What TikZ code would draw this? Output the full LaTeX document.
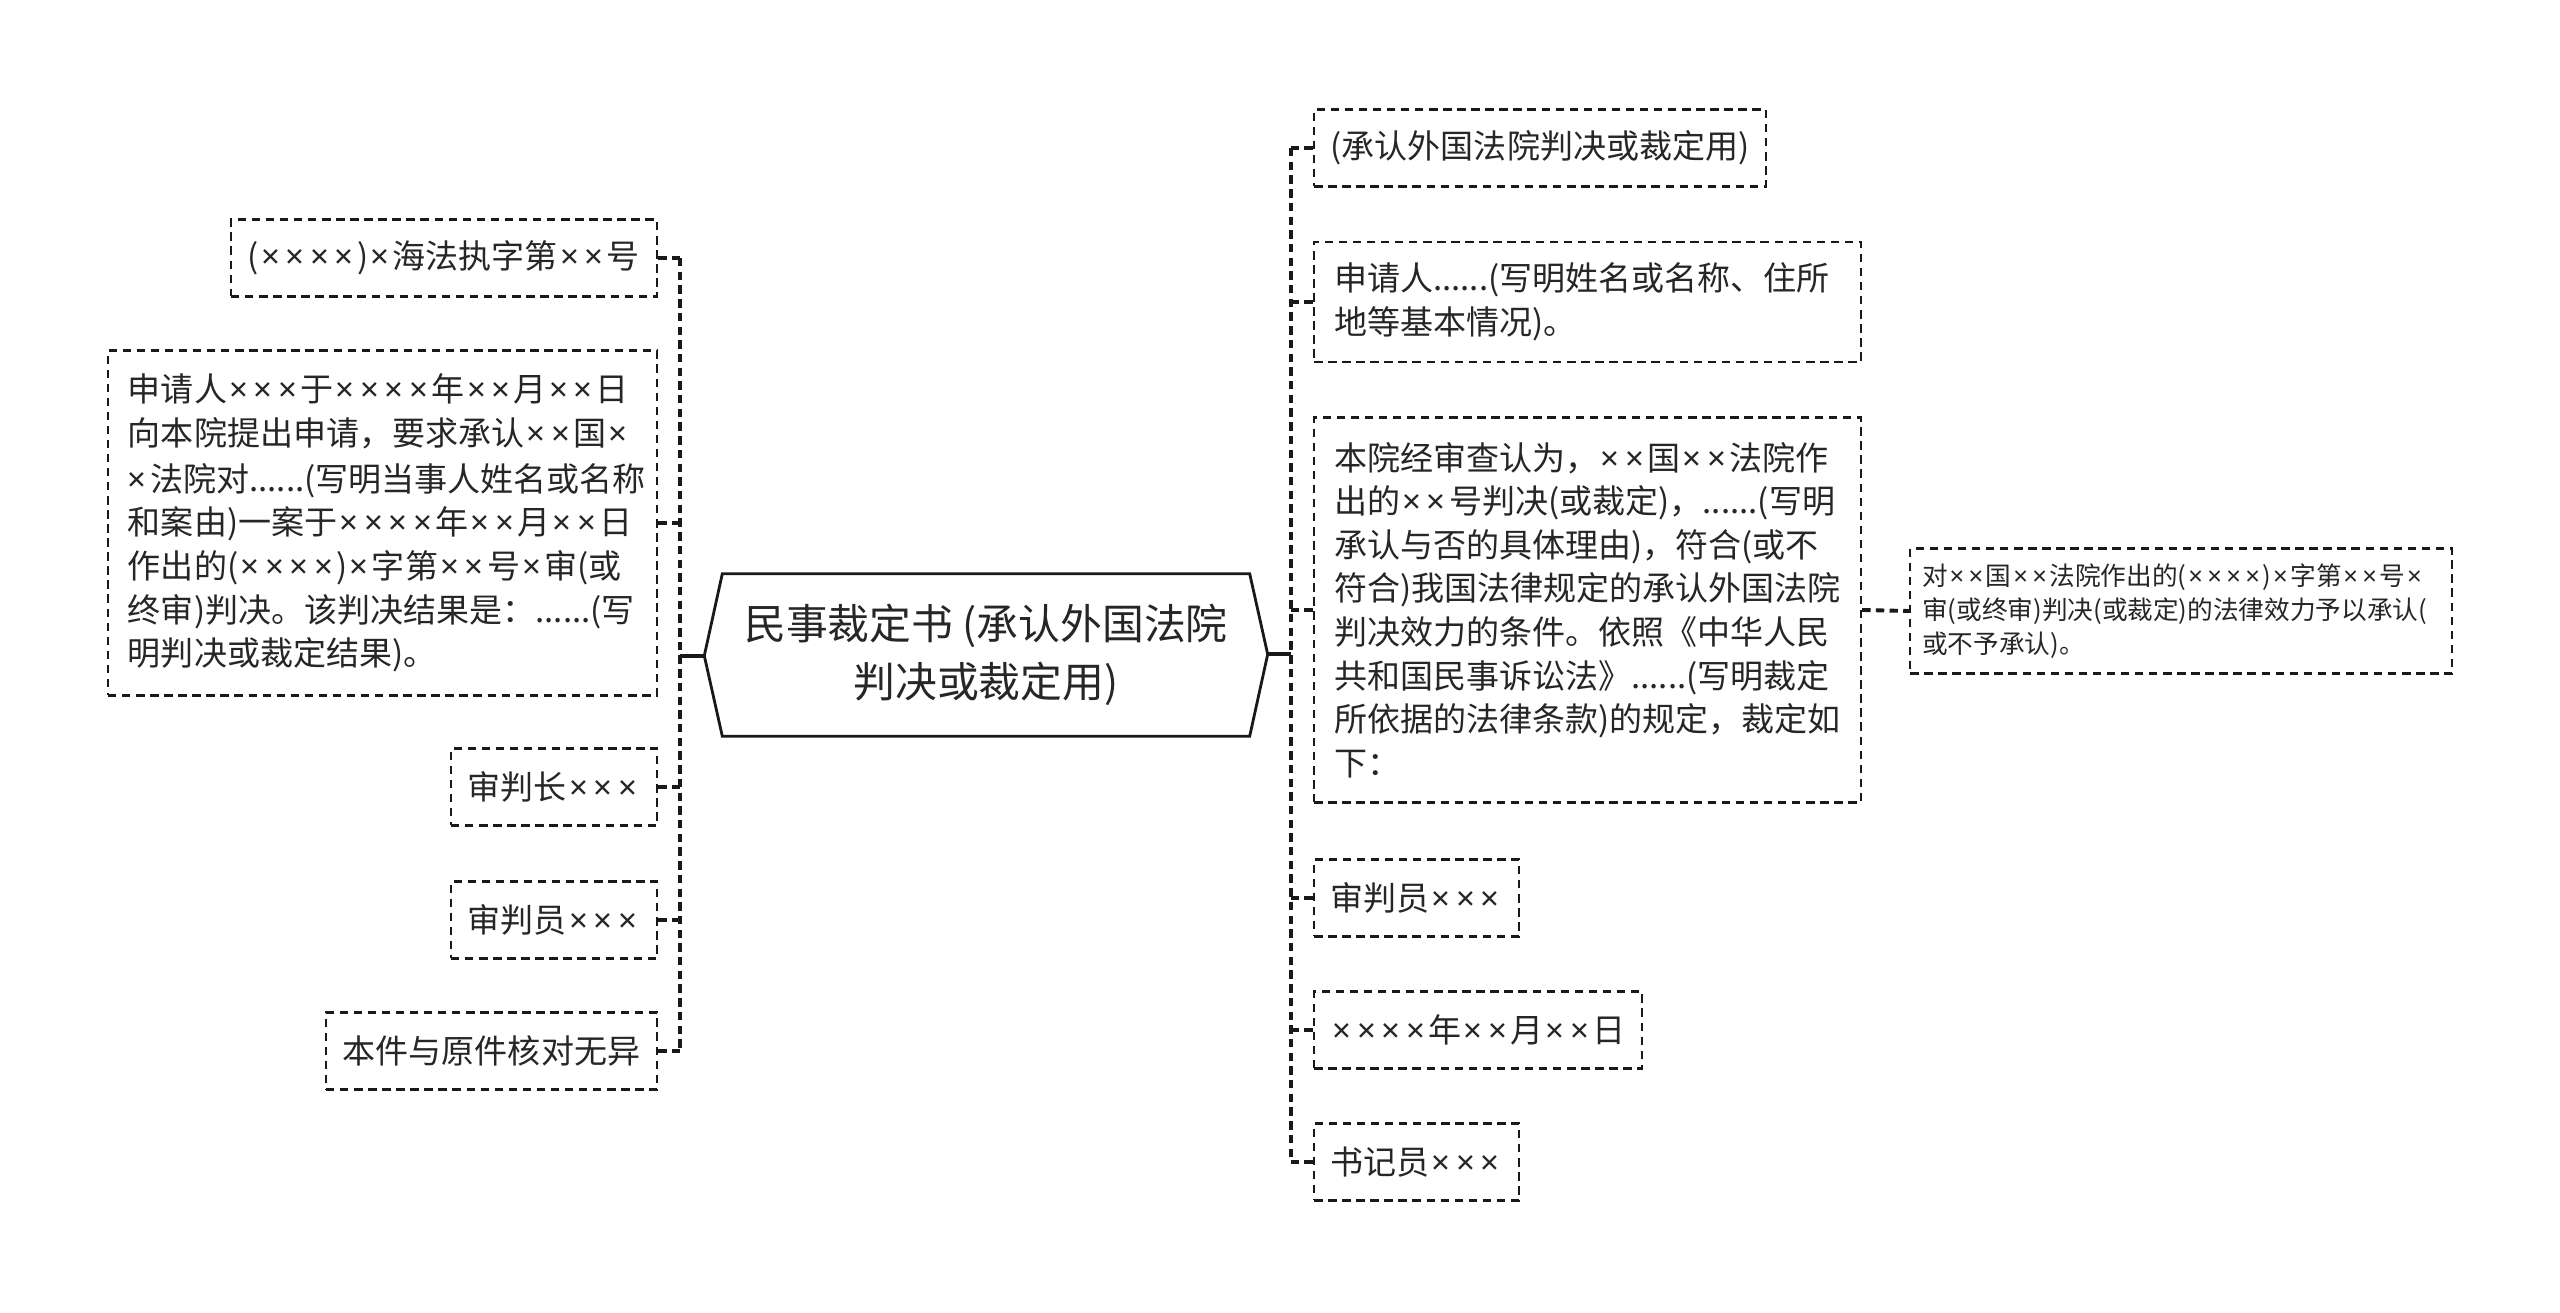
\documentclass[tikz,border=0pt]{standalone}
\usepackage{fontspec}
\usepackage{newunicodechar}
\setmainfont{Noto Sans CJK SC}
\newfontfamily\latinx{Noto Sans}
\newunicodechar{×}{{\kern0.07em\latinx\symbol{"D7}\kern0.1em}}
\usetikzlibrary{calc}

\begin{document}
\begin{tikzpicture}[x=0.1mm,y=-0.1mm,
    leaf/.style={draw=black!90,line width=0.6pt,dash pattern=on 2.4pt off 1.6pt,
      inner xsep=1.4mm,inner ysep=0pt,minimum height=7.7mm,align=left,
      text=black!85,font=\fontsize{9.4pt}{12.4pt}\selectfont},
    para/.style={inner xsep=2mm},
    small/.style={inner xsep=1.2mm,font=\fontsize{7.3pt}{9.6pt}\selectfont},
    link/.style={black!90,line width=1.1pt,dash pattern=on 2.4pt off 1.5pt},
    hubline/.style={black!90,line width=0.8pt}]
  \useasboundingbox (0,0) rectangle (2560,1313);
  \node[minimum width=52.6mm,minimum height=16.1mm,align=center,text=black!85,
    font=\fontsize{11.9pt}{16.7pt}\selectfont] (hub) at (986,655)
    {民事裁定书 (承认外国法院\\判决或裁定用)};
  \draw[hubline] (hub.north west) -- (hub.north east) -- ++(18,80.5) coordinate (hubR)
    -- (hub.south east) -- (hub.south west) -- ++(-18,-80.5) coordinate (hubL) -- cycle;
  \node[leaf,minimum width=42.6mm,anchor=east] (l1) at (658,258) {(××××)×海法执字第××号};
  \node[leaf,para,text width=50.9mm,minimum height=34.5mm,anchor=east] (l2) at (658,523)
    {申请人×××于××××年××月××日\\向本院提出申请，要求承认××国×\\×法院对......(写明当事人姓名或名称\\和案由)一案于××××年××月××日\\作出的(××××)×字第××号×审(或\\终审)判决。该判决结果是：......(写\\明判决或裁定结果)。};
  \node[leaf,minimum width=20.6mm,anchor=east] (l3) at (658,787) {审判长×××};
  \node[leaf,minimum width=20.6mm,anchor=east] (l4) at (658,920) {审判员×××};
  \node[leaf,minimum width=33.1mm,anchor=east] (l5) at (658,1051) {本件与原件核对无异};
  \node[leaf,minimum width=45.2mm,anchor=west] (r1) at (1313,148) {(承认外国法院判决或裁定用)};
  \node[leaf,para,text width=50.7mm,minimum height=12mm,anchor=west] (r2) at (1313,302)
    {申请人......(写明姓名或名称、住所\\地等基本情况)。};
  \node[leaf,para,text width=50.7mm,minimum height=38.5mm,anchor=west] (r3) at (1313,610)
    {本院经审查认为，××国××法院作\\出的××号判决(或裁定)，......(写明\\承认与否的具体理由)，符合(或不\\符合)我国法律规定的承认外国法院\\判决效力的条件。依照《中华人民\\共和国民事诉讼法》......(写明裁定\\所依据的法律条款)的规定，裁定如\\下：};
  \node[leaf,minimum width=20.5mm,anchor=west] (r4) at (1313,898) {审判员×××};
  \node[leaf,minimum width=32.8mm,anchor=west] (r5) at (1313,1030) {××××年××月××日};
  \node[leaf,minimum width=20.5mm,anchor=west] (r6) at (1313,1162) {书记员×××};
  \node[leaf,small,text width=51.8mm,minimum height=12.5mm,anchor=west] (r3a) at (1909,611)
    {对××国××法院作出的(××××)×字第××号×\\审(或终审)判决(或裁定)的法律效力予以承认(\\或不予承认)。};
  \draw[black!90,line width=1.1pt] (hubL) -- ++(-24,0) coordinate (lj);
  \draw[black!90,line width=1.1pt] (hubR) -- ++(23,0) coordinate (rj);
  \draw[link] (lj |- l1.east) -- (lj |- l5.east);
  \draw[link] (rj |- r1.west) -- (rj |- r6.west);
  \foreach \n in {l1,l2,l3,l4,l5}
    \draw[link] (lj |- \n.east) -- (\n.east);
  \foreach \n in {r1,r2,r3,r4,r5,r6}
    \draw[link] (rj |- \n.west) -- (\n.west);
  \draw[link] (r3.east) -- (r3a.west);
\end{tikzpicture}
\end{document}
